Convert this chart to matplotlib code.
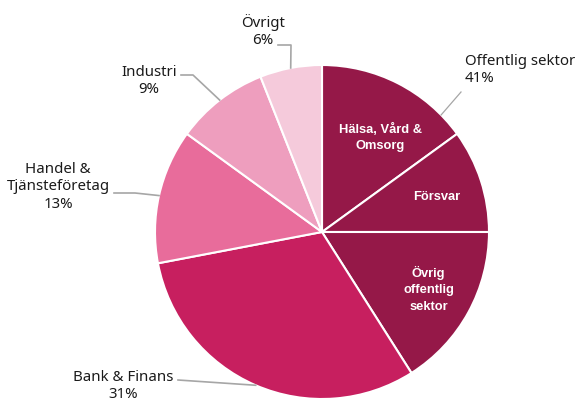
import numpy as np
import matplotlib
matplotlib.use("Agg")
import matplotlib.pyplot as plt

plt.rcParams['font.family'] = ['Noto Sans', 'DejaVu Sans']

# Data
slices = ["Hälsa, Vård &\nOmsorg", "Försvar", "Övrig\noffentlig\nsektor",
          "Bank & Finans", "Handel &\nTjänsteföretag", "Industri", "Övrigt"]
values = [15, 10, 16, 31, 13, 9, 6]
colors = ["#951848", "#951848", "#951848", "#C71F5F", "#E86C9B", "#EE9EBE", "#F5CADB"]

groups = ["Offentlig sektor", "Bank & Finans", "Handel &\nTjänsteföretag", "Industri", "Övrigt"]
group_pct = [41, 31, 13, 9, 6]

W, H = 577, 401
fig = plt.figure(figsize=(W / 100, H / 100), dpi=100)
ax = fig.add_axes([0, 0, 1, 1])

cx, cy, R = 322, H - 232, 167
wedges, _ = ax.pie(values, colors=colors, startangle=90, counterclock=False,
                   center=(cx, cy), radius=R, frame=True,
                   wedgeprops=dict(edgecolor="white", linewidth=1.5))
ax.set_xlim(0, W)
ax.set_ylim(0, H)
ax.set_aspect("equal")
ax.axis("off")

def mid_angle(w):
    return np.deg2rad((w.theta1 + w.theta2) / 2)

# Inner labels (first three slices)
inner_r = [111, 120, 121]
inner_shift = [-4.7, -1, 0.5]
for i in range(3):
    a = mid_angle(wedges[i]) + np.deg2rad(inner_shift[i])
    x = cx + inner_r[i] * np.cos(a)
    y = cy + inner_r[i] * np.sin(a)
    ax.text(x, y, slices[i], ha="center", va="center", color="white",
            fontsize=9.3, fontweight="bold", family=["Liberation Sans", "DejaVu Sans"],
            linespacing=1.5)

# Outer labels with leader lines
def edge_pt(angle_deg):
    a = np.deg2rad(angle_deg)
    return cx + R * np.cos(a), cy + R * np.sin(a)

lc = "#A6A6A6"
tc = "#1a1a1a"
fs = 10.8

# Offentlig sektor (spans first three wedges)
ex, ey = edge_pt(44.5)
ax.plot([ex, 461], [ey, H - 92], color=lc, lw=0.9)
ax.text(465, H - 70, f"{groups[0]}\n{group_pct[0]}%", ha="left", va="center",
        fontsize=fs, color=tc, linespacing=1.2)

# Bank & Finans
ex, ey = edge_pt(np.rad2deg(mid_angle(wedges[3])))
ax.plot([178, ex], [H - 380, ey], color=lc, lw=1.2)
ax.text(123, H - 386, f"{groups[1]}\n{group_pct[1]}%", ha="center", va="center",
        fontsize=fs, color=tc, linespacing=1.2)

# Handel
ex, ey = edge_pt(np.rad2deg(mid_angle(wedges[4])))
ax.plot([114, 135, ex], [H - 193, H - 193, ey], color=lc, lw=1.2)
ax.text(58, H - 187, f"{groups[2]}\n{group_pct[2]}%", ha="center", va="center",
        fontsize=fs, color=tc, linespacing=1.2)

# Industri
ex, ey = edge_pt(np.rad2deg(mid_angle(wedges[5])))
ax.plot([181, 193, ex], [H - 75, H - 75, ey], color=lc, lw=1.2)
ax.text(149, H - 81, f"{groups[3]}\n{group_pct[3]}%", ha="center", va="center",
        fontsize=fs, color=tc, linespacing=1.2)

# Övrigt
ex, ey = edge_pt(np.rad2deg(mid_angle(wedges[6])))
ax.plot([278, 291, ex], [H - 45, H - 45, ey], color=lc, lw=1.2)
ax.text(263, H - 31, f"{groups[4]}\n{group_pct[4]}%", ha="center", va="center",
        fontsize=fs, color=tc, linespacing=1.2)

fig.savefig("out.png", dpi=100)
